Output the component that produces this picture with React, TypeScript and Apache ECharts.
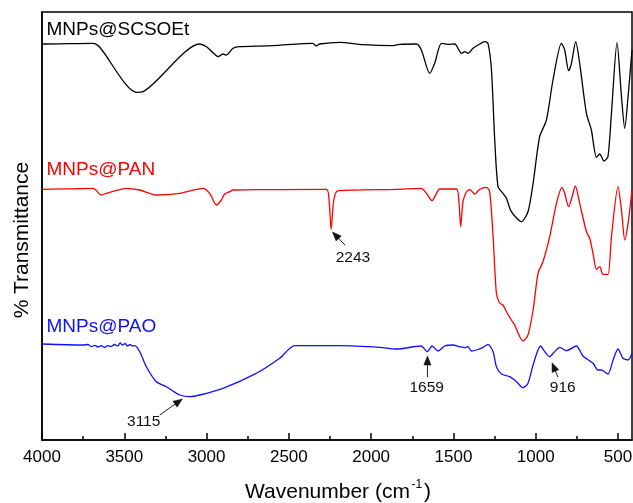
import { useEffect, useRef } from "react";
import * as echarts from "echarts";

// ---- data (wavenumber, cm-1 ; transmittance, arbitrary offset units) ----
const blackWn = [4000, 3994, 3690, 3649, 3426, 3386, 3042, 3001, 2961, 2930, 2900, 2880, 2839, 2799, 2598, 2355, 2333, 2313, 2191, 2049, 1867, 1826, 1725, 1695, 1644, 1614, 1573, 1533, 1492, 1451, 1431, 1411, 1381, 1340, 1310, 1290, 1269, 1249, 1229, 1199, 1178, 1148, 1087, 1047, 1016, 976, 935, 895, 844, 824, 800, 783, 757, 733, 692, 662, 631, 611, 585, 561, 540, 506, 479, 459, 439, 415];
const blackT = [396, 396, 396.7, 392.7, 347.7, 348.3, 396, 393.3, 387.3, 383.3, 386, 385, 391.7, 393.3, 394.3, 396.7, 394, 396, 397.7, 395.3, 394.3, 395.7, 396, 390, 366.7, 376.7, 396.7, 395.7, 396, 386.7, 388.3, 386.7, 391.7, 396, 398.3, 396.7, 370, 300, 253.3, 246.7, 241.7, 228.3, 218.3, 228.3, 256.7, 303.3, 320, 360, 396.7, 390, 369.3, 376.7, 398.3, 376.7, 326.7, 310, 282.7, 286, 279, 283.3, 326.7, 397.3, 343.3, 311.7, 343.3, 390];

const redWn = [4000, 3690, 3639, 3609, 3487, 3406, 3305, 3163, 3022, 2981, 2940, 2910, 2890, 2859, 2839, 2272, 2256, 2243, 2227, 2201, 1846, 1695, 1664, 1630, 1603, 1583, 1482, 1466, 1456, 1442, 1421, 1401, 1371, 1340, 1300, 1280, 1259, 1239, 1219, 1199, 1178, 1148, 1128, 1097, 1077, 1047, 1016, 986, 956, 915, 874, 840, 824, 800, 779, 759, 733, 692, 672, 652, 631, 611, 591, 561, 540, 500, 479, 459, 439, 415];
const redT = [250.7, 251.7, 245, 246.7, 251.7, 250, 245, 246.7, 251.7, 246.7, 235, 240, 246, 248.3, 250, 250.7, 240, 210.7, 240, 249.3, 250.7, 251.7, 246.7, 239.3, 246.7, 251, 251, 236.7, 213.3, 238.3, 248.3, 250.7, 246, 250.7, 252.7, 248.3, 203.3, 146.7, 136.7, 135, 128.3, 120, 115, 103.3, 99, 105, 130, 166.7, 178.3, 203.3, 236.7, 252.7, 246.7, 233.3, 243.3, 254, 236.7, 208.3, 201.7, 186.7, 170.7, 173.3, 165.7, 165.7, 203.3, 253.3, 230, 200, 216.7, 250];

const blueWn = [4000, 3751, 3720, 3700, 3680, 3660, 3640, 3620, 3600, 3580, 3560, 3540, 3525, 3510, 3495, 3480, 3465, 3450, 3437, 3406, 3366, 3305, 3244, 3163, 3102, 3042, 2900, 2697, 2556, 2464, 2191, 1948, 1846, 1695, 1685, 1659, 1630, 1594, 1553, 1503, 1462, 1431, 1411, 1391, 1360, 1320, 1290, 1259, 1239, 1208, 1158, 1117, 1077, 1047, 1016, 971, 945, 916, 885, 854, 813, 753, 713, 652, 622, 601, 561, 530, 500, 470, 439, 415];
const blueT = [96, 95, 95.5, 93.3, 94.7, 93, 94.3, 92.7, 94.3, 93.5, 95.5, 94, 97, 95, 96.5, 94, 95.5, 94, 94.3, 88.3, 73.3, 58.3, 53.3, 45, 43.3, 45, 51.7, 66.7, 81.7, 94.3, 94.3, 92.7, 91, 94, 92.7, 88.3, 94, 89, 94, 95, 93.3, 92.3, 93.3, 89, 90, 92.7, 95.7, 88.3, 73.3, 66, 63.3, 58.3, 52.3, 56.7, 75, 94, 88.3, 83.3, 88.3, 92.7, 89.3, 94, 84, 76.7, 70, 70, 66, 80, 91, 81.7, 80, 86.7];

const seriesNames = ["MNPs@SCSOEt", "MNPs@PAN", "MNPs@PAO"];

const majorTicks = [4000, 3500, 3000, 2500, 2000, 1500, 1000, 500];
const minorTicks = [3750, 3250, 2750, 2250, 1750, 1250, 750];

// annotated bands: label, wavenumber and transmittance of the arrow tip
const annLabels = ["2243", "3115", "1659", "916"];
const annWn = [2235, 3147, 1658, 901];
const annT = [208, 41, 84, 77.3];

// ---- layout / style (pixel offsets, not data) ----
const FONT = "'Liberation Sans', Arial, Helvetica, sans-serif";
const annLayout = [
  { tail: [12.7, 13.3], label: [20.4, 24.6] },
  { tail: [-22.7, 16], label: [-38.7, 21.8] },
  { tail: [0, 21.3], label: [-0.7, 30.7] },
  { tail: [6, 14.6], label: [10.7, 24] },
];
const nameLayout = [
  { x: 46.5, y: 28.4, color: "#000000" },
  { x: 46.5, y: 168.9, color: "#ff0000" },
  { x: 46.5, y: 325.4, color: "#1010ff" },
];

function pairs(x: number[], y: number[]) {
  return x.map((v, i) => [v, y[i]]);
}

export default function App() {
  const ref = useRef<HTMLDivElement>(null);
  useEffect(() => {
    const chart = echarts.init(ref.current!, null, { renderer: "svg" });
    const mk = (name: string, color: string, x: number[], y: number[]) => ({
      type: "line",
      name,
      data: pairs(x, y),
      showSymbol: false,
      smooth: 0.25,
      silent: true,
      xAxisIndex: 0,
      yAxisIndex: 0,
      lineStyle: { color, width: 1.3 },
      itemStyle: { color },
    });
    const axisColor = "#000";
    chart.setOption({
      animation: false,
      grid: {
        left: 42,
        right: 1,
        top: 12,
        bottom: 63,
        containLabel: false,
        outerBoundsMode: "none",
        show: true,
        borderColor: axisColor,
        borderWidth: 1.5,
        backgroundColor: "transparent",
      },
      xAxis: [
        {
          type: "value",
          inverse: true,
          min: 415,
          max: 4000,
          position: "bottom",
          axisLine: { show: true, onZero: false, lineStyle: { color: axisColor, width: 1.5 } },
          axisTick: { show: true, inside: true, length: 7, customValues: majorTicks, lineStyle: { color: axisColor, width: 1.5 } },
          axisLabel: {
            customValues: majorTicks,
            fontSize: 17,
            color: "#000",
            fontFamily: FONT,
            margin: 8,
            hideOverlap: false,
            formatter: (v: number) => String(v),
          },
          splitLine: { show: false },
        },
        {
          type: "value",
          inverse: true,
          min: 415,
          max: 4000,
          position: "bottom",
          axisLine: { show: false },
          axisTick: { show: true, inside: true, length: 4, customValues: minorTicks, lineStyle: { color: axisColor, width: 1.5 } },
          axisLabel: { show: false },
          splitLine: { show: false },
        },
      ],
      yAxis: {
        type: "value",
        min: 0,
        max: 428,
        axisLine: { show: true, onZero: false, lineStyle: { color: axisColor, width: 1.5 } },
        axisTick: { show: false },
        axisLabel: { show: false },
        splitLine: { show: false },
      },
      series: [
        mk(seriesNames[0], nameLayout[0].color, blackWn, blackT),
        mk(seriesNames[1], nameLayout[1].color, redWn, redT),
        mk(seriesNames[2], nameLayout[2].color, blueWn, blueT),
      ],
    });

    const graphics: any[] = [];
    seriesNames.forEach((n, i) => {
      graphics.push({
        type: "text",
        x: nameLayout[i].x,
        y: nameLayout[i].y,
        silent: true,
        style: { text: n, fontSize: 19, fontFamily: FONT, fill: nameLayout[i].color, align: "left", verticalAlign: "middle" },
      });
    });
    graphics.push({
      type: "text",
      x: 20.5,
      y: 240,
      rotation: Math.PI / 2,
      silent: true,
      style: { text: "% Transmittance", fontSize: 21, fontFamily: FONT, fill: "#000", align: "center", verticalAlign: "middle" },
    });
    graphics.push({
      type: "text",
      x: 245,
      y: 490.7,
      silent: true,
      style: { text: "Wavenumber (cm", fontSize: 21, fontFamily: FONT, fill: "#000", align: "left", verticalAlign: "middle" },
    });
    graphics.push({
      type: "text",
      x: 411.5,
      y: 484,
      silent: true,
      style: { text: "-1", fontSize: 12, fontFamily: FONT, fill: "#000", align: "left", verticalAlign: "middle" },
    });
    graphics.push({
      type: "text",
      x: 424,
      y: 490.7,
      silent: true,
      style: { text: ")", fontSize: 21, fontFamily: FONT, fill: "#000", align: "left", verticalAlign: "middle" },
    });

    annLabels.forEach((lab, i) => {
      const tip = chart.convertToPixel({ xAxisIndex: 0, yAxisIndex: 0 }, [annWn[i], annT[i]]) as number[];
      const L = annLayout[i];
      const tail = [tip[0] + L.tail[0], tip[1] + L.tail[1]];
      const dx = tip[0] - tail[0];
      const dy = tip[1] - tail[1];
      const len = Math.hypot(dx, dy) || 1;
      const ux = dx / len;
      const uy = dy / len;
      const nx = -uy;
      const ny = ux;
      const hl = 9;
      const hw = 3.6;
      const base = [tip[0] - ux * hl, tip[1] - uy * hl];
      graphics.push({
        type: "line",
        silent: true,
        shape: { x1: tail[0], y1: tail[1], x2: base[0] + ux * 2, y2: base[1] + uy * 2 },
        style: { stroke: "#222", lineWidth: 1 },
      });
      graphics.push({
        type: "polygon",
        silent: true,
        shape: {
          points: [
            [tip[0], tip[1]],
            [base[0] + nx * hw, base[1] + ny * hw],
            [base[0] - nx * hw, base[1] - ny * hw],
          ],
        },
        style: { fill: "#111", stroke: "#111", lineWidth: 0.5 },
      });
      graphics.push({
        type: "text",
        x: tip[0] + L.label[0],
        y: tip[1] + L.label[1],
        silent: true,
        style: { text: lab, fontSize: 15.5, fontFamily: FONT, fill: "#111", align: "center", verticalAlign: "middle" },
      });
    });
    chart.setOption({ graphic: graphics });

    return () => chart.dispose();
  }, []);
  return <div ref={ref} style={{ position: "fixed", left: 0, top: 0, width: 633, height: 503 }} />;
}
